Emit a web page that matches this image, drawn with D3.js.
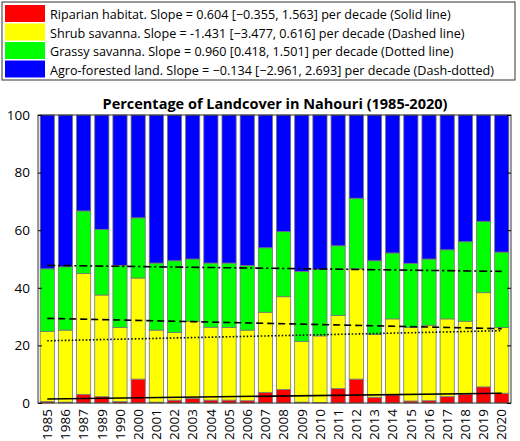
<!DOCTYPE html>
<html><head><meta charset="utf-8">
<script src="https://cdn.jsdelivr.net/npm/d3@7"></script>
<style>body{margin:0;background:#fff;font-family:"Open Sans",sans-serif}</style>
</head><body><div id="chart"></div>
<script>
var years = ['1985','1986','1987','1989','1990','2000','2001','2002','2003','2004','2005','2006','2007','2008','2009','2010','2011','2012','2013','2014','2015','2016','2017','2018','2019','2020'];
// cumulative tops
var riparian = [0.5,0.3,3.0,2.2,0.5,8.3,0.3,1.0,1.6,1.0,1.0,0.8,3.7,4.7,0.3,0.2,5.0,8.3,2.0,2.8,0.7,0.8,2.2,3.0,5.6,3.4];
var shrubTop = [24.8,25.3,45.0,37.5,26.2,43.4,25.3,24.5,28.4,26.3,26.2,25.3,31.5,36.9,21.4,23.3,30.4,46.6,23.8,29.2,26.2,27.0,29.2,28.4,38.3,26.2];
var grassTop = [46.6,47.3,66.7,60.3,47.8,64.3,48.6,49.4,50.0,48.6,48.6,47.7,53.9,59.5,45.7,46.4,54.6,71.1,49.4,52.1,48.5,50.0,53.2,56.0,63.1,52.4];
var legendLabels = [
  'Riparian habitat. Slope = 0.604 [\u22120.355, 1.563] per decade (Solid line)',
  'Shrub savanna. Slope = -1.431 [\u22123.477, 0.616] per decade (Dashed line)',
  'Grassy savanna. Slope = 0.960 [0.418, 1.501] per decade (Dotted line)',
  'Agro-forested land. Slope = \u22120.134 [\u22122.961, 2.693] per decade (Dash-dotted)'];
var colors = ['#ff0000','#ffff00','#00ff00','#0000ff'];
// trend lines: [start, end] cumulative value
var trendSolid = [1.4, 3.4];
var trendDashed = [29.4, 25.8];
var trendDotted = [21.6, 25.1];
var trendDashDot = [47.8, 45.7];
var yTicks = [0,20,40,60,80,100];

var svg = d3.select('#chart').append('svg').attr('width',520).attr('height',441);

// legend
var lg = svg.append('g').attr('transform','translate(2,2)');
lg.append('rect').attr('width',513).attr('height',78).attr('fill','#fff').attr('stroke','#333');
legendLabels.forEach(function(t,i){
  lg.append('rect').attr('x',3).attr('y',3+i*18.5).attr('width',40).attr('height',17).attr('fill',colors[i]);
  lg.append('text').attr('x',48).attr('y',17+i*18.5).attr('font-size',12.6).text(t);
});

var x = d3.scaleBand().domain(years).range([38,511]).paddingInner(0.22).paddingOuter(0.12);
var y = d3.scaleLinear().domain([0,100]).range([403,115]);

svg.append('text').attr('x',275).attr('y',109).attr('text-anchor','middle')
  .attr('font-weight','bold').attr('font-size',14.5).text('Percentage of Landcover in Nahouri (1985-2020)');

var stacks = years.map(function(yr,i){
  return [[0,riparian[i]],[riparian[i],shrubTop[i]],[shrubTop[i],grassTop[i]],[grassTop[i],100]];
});
var g = svg.append('g');
years.forEach(function(yr,i){
  stacks[i].forEach(function(s,k){
    g.append('rect').attr('x',x(yr)).attr('width',x.bandwidth())
      .attr('y',y(s[1])).attr('height',y(s[0])-y(s[1]))
      .attr('fill',colors[k]).attr('stroke','#777').attr('stroke-width',0.8);
  });
});

var x0 = x(years[0])+x.bandwidth()/2, x1 = x(years[years.length-1])+x.bandwidth()/2;
[[trendSolid,null],[trendDashed,'7,4'],[trendDotted,'1.5,2'],[trendDashDot,'8,3,2,3']].forEach(function(t){
  svg.append('line').attr('x1',x0).attr('x2',x1).attr('y1',y(t[0][0])).attr('y2',y(t[0][1]))
    .attr('stroke','#000').attr('stroke-width',1.6).attr('stroke-dasharray',t[1]);
});

svg.append('rect').attr('x',38).attr('y',115).attr('width',473).attr('height',288)
  .attr('fill','none').attr('stroke','#333');
var ya = svg.append('g').attr('transform','translate(38,0)')
  .call(d3.axisLeft(y).tickValues(yTicks).tickSize(-4).tickPadding(8));
ya.select('.domain').remove();
ya.selectAll('text').attr('font-size',13.5).attr('font-family','Open Sans');
var yr2 = svg.append('g').attr('transform','translate(511,0)')
  .call(d3.axisRight(y).tickValues(yTicks).tickSize(-4).tickFormat(''));
yr2.select('.domain').remove();
var xa = svg.append('g').attr('transform','translate(0,403)').call(d3.axisBottom(x).tickSize(0));
xa.select('.domain').remove();
xa.selectAll('text').attr('font-size',13.5).attr('font-family','Open Sans')
  .attr('transform','rotate(-90)').attr('text-anchor','end').attr('dx','-6').attr('x',0).attr('y',0)
  .attr('dy','0.35em');
</script></body></html>
